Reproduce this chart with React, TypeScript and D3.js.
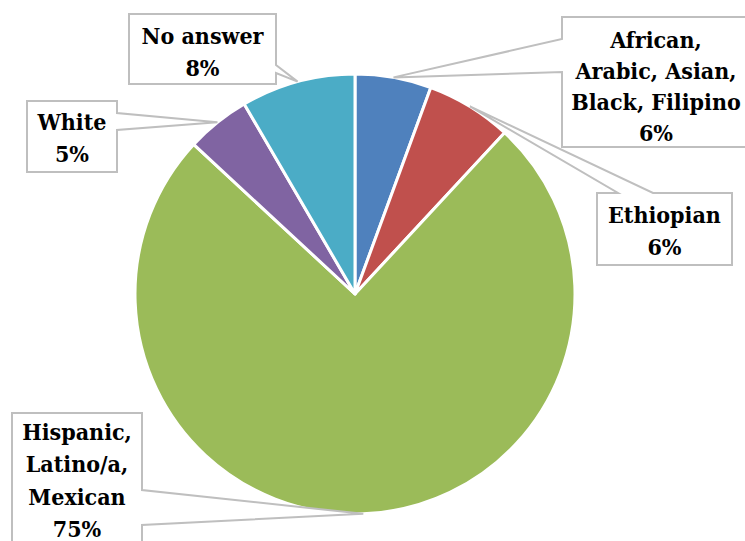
import React from "react";
import * as d3 from "d3";

const categories = [
  "African, Arabic, Asian, Black, Filipino",
  "Ethiopian",
  "Hispanic, Latino/a, Mexican",
  "White",
  "No answer",
];
const values = [5.6, 6.3, 75.0, 4.7, 8.4];
const labelLines = [
  ["African,", "Arabic, Asian,", "Black, Filipino"],
  ["Ethiopian"],
  ["Hispanic,", "Latino/a,", "Mexican"],
  ["White"],
  ["No answer"],
];
const colors = ["#4F81BD", "#C0504D", "#9BBB59", "#8064A2", "#4BACC6"];

type Side = "left" | "right" | "top";
interface Box { x: number; y: number; w: number; h: number; side: Side; b1: number; b2: number; ty: number; ls: number }

const boxes: Box[] = [
  { x: 562, y: 17, w: 188, h: 130, side: "left", b1: 39, b2: 72, ty: 48, ls: 31 },
  { x: 597, y: 193, w: 135, h: 72, side: "top", b1: 618, b2: 653, ty: 223, ls: 32 },
  { x: 12, y: 413, w: 130, h: 160, side: "right", b1: 490, b2: 525, ty: 440, ls: 32.3 },
  { x: 27, y: 101, w: 90, h: 71, side: "right", b1: 113, b2: 130, ty: 130, ls: 32 },
  { x: 129, y: 14, w: 147, h: 70, side: "right", b1: 65, b2: 73, ty: 44, ls: 32 },
];

const W = 745, H = 541;
const cx = 355, cy = 294, R = 220;

function calloutPoints(b: Box, tip: [number, number]): string {
  const { x, y, w, h, side, b1, b2 } = b;
  let pts: [number, number][];
  if (side === "top") {
    pts = [[x, y], [b1, y], tip, [b2, y], [x + w, y], [x + w, y + h], [x, y + h]];
  } else if (side === "right") {
    pts = [[x, y], [x + w, y], [x + w, b1], tip, [x + w, b2], [x + w, y + h], [x, y + h]];
  } else {
    pts = [[x, y], [x + w, y], [x + w, y + h], [x, y + h], [x, b2], tip, [x, b1]];
  }
  return pts.map((p) => p.join(",")).join(" ");
}

export default function App() {
  const total = d3.sum(values);
  const pie = d3.pie<number>().sort(null).value((d) => d)(values);
  const arc = d3.arc<d3.PieArcDatum<number>>().innerRadius(0).outerRadius(R);
  const tipArc = d3.arc<d3.PieArcDatum<number>>().innerRadius(R).outerRadius(R);
  const fmt = (v: number) => `${Math.round((v / total) * 100)}%`;

  return (
    <svg width={W} height={H} style={{ position: "absolute", left: 0, top: 0, background: "#fff", fontFamily: "'DejaVu Serif Condensed', 'DejaVu Serif', serif", fontStretch: "condensed", fontWeight: "bold" }}>
      <g transform={`translate(${cx},${cy})`}>
        {pie.map((d, i) => (
          <path key={categories[i]} d={arc(d) || ""} fill={colors[i]} stroke="#fff" strokeWidth={3} strokeLinejoin="round" />
        ))}
      </g>
      {pie.map((d, i) => {
        const c = tipArc.centroid(d);
        const tip: [number, number] = [cx + c[0], cy + c[1]];
        const b = boxes[i];
        const lines = [...labelLines[i], fmt(values[i])];
        return (
          <g key={"l" + i}>
            <polygon points={calloutPoints(b, tip)} fill="#fff" stroke="#BFBFBF" strokeWidth={2} />
            <text x={b.x + b.w / 2} textAnchor="middle" fontSize={23} fill="#000">
              {lines.map((t, j) => (
                <tspan key={j} x={b.x + b.w / 2} y={b.ty + j * b.ls}>{t}</tspan>
              ))}
            </text>
          </g>
        );
      })}
    </svg>
  );
}
